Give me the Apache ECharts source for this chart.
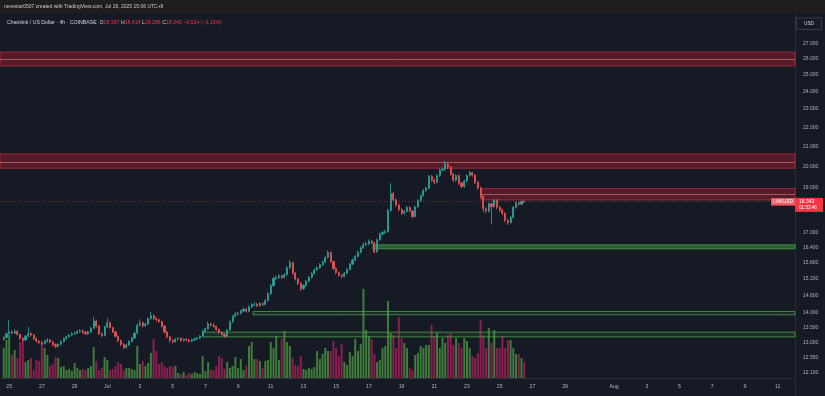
<!DOCTYPE html>
<html><head><meta charset="utf-8">
<script src="https://cdn.jsdelivr.net/npm/echarts@6/dist/echarts.min.js"></script>
<style>html,body{margin:0;padding:0;background:#161a25;}#c{width:825px;height:396px;}</style>
</head><body><div id="c"></div>
<script>
// ---------- DATA ----------
const firstBarTime = '2025-06-24T16:00:00Z';   // 4h bars
const barHours = 4;
const viewStart = '2025-06-24T10:30:00Z';
const viewEnd = '2025-08-12T01:30:00Z';
const opens = [
13.12,13.18,
13.30,13.36,13.32,13.38,13.28,13.15,
13.10,13.22,13.30,13.26,13.14,13.06,
13.02,12.98,13.06,13.10,13.04,12.95,
12.90,12.96,13.05,13.14,13.20,13.26,
13.30,13.32,13.37,13.40,13.34,13.30,
13.36,13.48,13.72,13.55,13.30,13.24,
13.52,13.66,13.50,13.36,13.22,13.08,
12.96,12.86,12.94,13.05,13.16,13.32,
13.58,13.66,13.56,13.62,13.80,13.90,
13.80,13.76,13.70,13.55,13.36,13.20,
13.08,13.04,13.12,13.15,13.08,13.12,
13.10,13.06,13.10,13.13,13.16,13.22,
13.38,13.46,13.62,13.58,13.54,13.44,
13.34,13.28,13.22,13.42,13.70,13.88,
13.96,13.98,14.06,14.12,14.05,14.20,
14.28,14.30,14.24,14.32,14.28,14.42,
14.66,14.96,15.22,15.26,15.32,15.26,
15.36,15.62,15.82,15.42,15.20,15.04,
14.84,14.96,15.12,15.26,15.40,15.54,
15.62,15.74,15.84,16.02,16.22,15.86,
15.60,15.44,15.34,15.30,15.42,15.56,
15.76,15.92,16.06,16.22,16.40,16.52,
16.56,16.66,16.60,16.24,16.72,16.96,
17.02,17.06,17.96,18.72,18.44,18.20,
18.00,17.84,17.92,18.10,17.94,17.70,
18.12,18.40,18.62,18.86,18.96,19.52,
19.34,19.24,19.56,19.82,19.86,20.12,
19.96,19.62,19.34,19.56,19.20,19.04,
19.30,19.56,19.70,19.58,19.24,18.98,
18.58,18.04,17.94,18.26,18.14,18.42,
18.10,17.98,17.84,17.54,17.44,17.66,
18.10,18.30,18.24,18.367];
const highs = [
13.22,13.34,
13.74,13.42,13.44,13.41,13.31,13.20,
13.26,13.52,13.36,13.29,13.18,13.10,
13.07,13.10,13.16,13.13,13.07,12.99,
13.00,13.09,13.18,13.24,13.30,13.35,
13.37,13.42,13.45,13.43,13.38,13.40,
13.52,13.86,13.76,13.58,13.34,13.56,
13.82,13.70,13.53,13.40,13.25,13.11,
13.00,12.98,13.09,13.20,13.36,13.64,
13.78,13.70,13.67,13.85,14.02,13.94,
13.85,13.80,13.73,13.58,13.39,13.24,
13.12,13.16,13.19,13.18,13.16,13.15,
13.13,13.14,13.17,13.20,13.26,13.42,
13.50,13.70,13.66,13.64,13.57,13.47,
13.37,13.31,13.46,13.74,13.92,14.02,
14.04,14.11,14.18,14.16,14.25,14.34,
14.36,14.34,14.37,14.36,14.47,14.72,
15.02,15.28,15.34,15.38,15.36,15.42,
15.68,15.92,15.86,15.46,15.24,15.08,
15.00,15.16,15.31,15.45,15.60,15.68,
15.80,15.90,16.08,16.30,16.26,15.90,
15.64,15.48,15.38,15.46,15.60,15.80,
15.98,16.12,16.28,16.46,16.62,16.64,
16.74,16.72,16.64,16.78,17.02,17.10,
17.14,18.04,19.20,18.80,18.50,18.26,
18.06,17.98,18.16,18.14,17.98,18.18,
18.46,18.68,18.92,19.04,19.60,19.58,
19.40,19.62,19.90,19.94,20.25,20.18,
20.02,19.68,19.62,19.60,19.26,19.36,
19.62,19.78,19.74,19.62,19.30,19.04,
18.64,18.12,18.32,18.30,18.48,18.46,
18.16,18.04,17.88,17.60,17.72,18.16,
18.36,18.34,18.40,18.414];
const lows = [
13.08,13.15,
13.27,13.28,13.29,13.24,13.10,13.05,
13.08,13.19,13.21,13.10,13.02,12.97,
12.93,12.95,13.02,12.99,12.90,12.84,
12.86,12.93,13.02,13.11,13.17,13.22,
13.26,13.29,13.33,13.30,13.26,13.27,
13.33,13.45,13.50,13.26,13.18,13.21,
13.49,13.46,13.32,13.18,13.03,12.90,
12.80,12.82,12.91,13.02,13.13,13.29,
13.54,13.50,13.52,13.58,13.76,13.75,
13.71,13.65,13.50,13.31,13.15,13.02,
12.99,13.01,13.08,13.04,13.05,13.06,
13.02,13.03,13.07,13.10,13.13,13.19,
13.35,13.43,13.54,13.50,13.40,13.30,
13.24,13.17,13.19,13.39,13.66,13.84,
13.90,13.94,14.02,14.00,14.02,14.16,
14.22,14.19,14.20,14.23,14.25,14.39,
14.62,14.92,15.16,15.20,15.20,15.22,
15.32,15.58,15.36,15.14,14.98,14.76,
14.80,14.92,15.08,15.22,15.36,15.50,
15.58,15.70,15.80,15.98,15.80,15.52,
15.38,15.28,15.22,15.26,15.38,15.52,
15.72,15.88,16.02,16.18,16.36,16.46,
16.50,16.54,16.18,16.20,16.68,16.90,
16.96,17.02,17.92,18.36,18.12,17.92,
17.76,17.78,17.88,17.88,17.62,17.66,
18.08,18.36,18.58,18.80,18.92,19.26,
19.16,19.20,19.50,19.76,19.80,19.88,
19.56,19.26,19.28,19.12,18.96,18.98,
19.24,19.50,19.50,19.16,18.90,18.48,
17.90,17.84,17.88,17.36,18.08,18.02,
17.90,17.76,17.46,17.34,17.40,17.62,
18.04,18.18,18.20,18.286];
const closes = [
13.18,13.30,
13.36,13.32,13.38,13.28,13.15,13.10,
13.22,13.30,13.26,13.14,13.06,13.02,
12.98,13.06,13.10,13.04,12.95,12.90,
12.96,13.05,13.14,13.20,13.26,13.30,
13.32,13.37,13.40,13.34,13.30,13.36,
13.48,13.72,13.55,13.30,13.24,13.52,
13.66,13.50,13.36,13.22,13.08,12.96,
12.86,12.94,13.05,13.16,13.32,13.58,
13.66,13.56,13.62,13.80,13.90,13.80,
13.76,13.70,13.55,13.36,13.20,13.08,
13.04,13.12,13.15,13.08,13.12,13.10,
13.06,13.10,13.13,13.16,13.22,13.38,
13.46,13.62,13.58,13.54,13.44,13.34,
13.28,13.22,13.42,13.70,13.88,13.96,
13.98,14.06,14.12,14.05,14.20,14.28,
14.30,14.24,14.32,14.28,14.42,14.66,
14.96,15.22,15.26,15.32,15.26,15.36,
15.62,15.82,15.42,15.20,15.04,14.84,
14.96,15.12,15.26,15.40,15.54,15.62,
15.74,15.84,16.02,16.22,15.86,15.60,
15.44,15.34,15.30,15.42,15.56,15.76,
15.92,16.06,16.22,16.40,16.52,16.56,
16.66,16.60,16.24,16.72,16.96,17.02,
17.06,17.96,18.72,18.44,18.20,18.00,
17.84,17.92,18.10,17.94,17.70,18.12,
18.40,18.62,18.86,18.96,19.52,19.34,
19.24,19.56,19.82,19.86,20.12,19.96,
19.62,19.34,19.56,19.20,19.04,19.30,
19.56,19.70,19.58,19.24,18.98,18.58,
18.04,17.94,18.26,18.14,18.42,18.10,
17.98,17.84,17.54,17.44,17.66,18.10,
18.30,18.24,18.367,18.343];
const volumes = [
30,38,
43,23,28,20,36,38,
16,18,20,8,18,17,
35,30,23,12,14,21,
20,11,12,8,9,7,
15,10,8,9,8,10,
12,31,17,8,10,21,
18,8,9,12,16,14,
8,10,10,9,8,32,
14,17,12,15,25,39,
27,14,16,12,10,12,
11,12,5,4,6,3,
5,4,6,5,4,22,
7,16,8,8,12,22,
20,9,16,10,12,21,
10,19,8,12,32,36,
19,19,17,10,17,18,
36,30,42,18,39,47,
36,32,20,13,12,22,
9,8,10,9,11,27,
19,24,30,27,27,37,
30,22,34,16,13,26,
22,39,27,34,89,48,
42,39,24,16,18,30,
32,77,45,43,30,61,
40,35,30,10,8,23,
25,32,30,33,33,53,
42,45,30,40,35,43,
45,33,40,35,30,40,
37,30,22,20,25,58,
43,30,50,35,48,30,
30,42,30,38,38,30,
24,24,20,16];
const priceTicks = [27,26,25,24,23,22,21,20,19,17,16.4,15.8,15.2,14.6,14,13.5,13,12.55,12.1];
const priceMin = 11.94, priceMax = 29.0;
const dateTicks = ['2025-06-25','2025-06-27','2025-06-29','2025-07-01','2025-07-03','2025-07-05','2025-07-07','2025-07-09','2025-07-11','2025-07-13','2025-07-15','2025-07-17','2025-07-19','2025-07-21','2025-07-23','2025-07-25','2025-07-27','2025-07-29','2025-08-01','2025-08-03','2025-08-05','2025-08-07','2025-08-09','2025-08-11'];
const dateTickLabels = ['25','27','29','Jul','3','5','7','9','11','13','15','17','19','21','23','25','27','29','Aug','3','5','7','9','11'];
// supply (red) and demand (green) zones: start time, low, high, mid line
const redZoneStart = [viewStart, viewStart, '2025-07-23T21:00:00Z'];
const redZoneLow = [25.55, 19.91, 18.43];
const redZoneHigh = [26.43, 20.62, 18.95];
const redZoneMid = [26.00, 20.18, 18.70];
const greenZoneStart = ['2025-07-17T06:00:00Z', '2025-07-09T22:00:00Z', '2025-07-06T20:00:00Z'];
const greenZoneLow = [16.36, 13.93, 13.20];
const greenZoneHigh = [16.52, 14.04, 13.35];
const symbolTitle = 'Chainlink / US Dollar · 4h · COINBASE';
const headerText = 'nevestar0507 created with TradingView.com, Jul 26, 2025 15:06 UTC+8';
const countdown = '01:53:46';
const tickerName = 'LINKUSD';

// ---------- BUILD ----------
const ORIGIN = Date.parse('2025-07-01T00:00:00Z');
const H = t => (Date.parse(t.length === 10 ? t + 'T00:00:00Z' : t) - ORIGIN) / 3600000;
const L = Math.log;
const x0 = H(firstBarTime);
const xMin = H(viewStart), xMax = H(viewEnd);
const UP = '#26a69a', DOWN = '#ef5350';
const VUP = '#3f7d3a', VDOWN = '#8c1f4f';
const candleData = closes.map((c, i) => [x0 + i * barHours, L(opens[i]), L(c), L(lows[i]), L(highs[i])]);
const volData = volumes.map((v, i) => ({
  value: [x0 + i * barHours, v],
  itemStyle: { color: closes[i] >= opens[i] ? VUP : VDOWN }
}));
const tickHours = dateTicks.map(H);
const tickLabelMap = {};
tickHours.forEach((h, i) => tickLabelMap[Math.round(h)] = dateTickLabels[i]);

const markAreas = [];
redZoneStart.forEach((s, i) => markAreas.push([
  { xAxis: Math.max(H(s), xMin), yAxis: L(redZoneHigh[i]), itemStyle: { color: 'rgba(150,28,45,0.5)', borderColor: 'rgba(185,45,60,0.75)', borderWidth: 1 } },
  { xAxis: xMax, yAxis: L(redZoneLow[i]) }
]));
greenZoneStart.forEach((s, i) => markAreas.push([
  { xAxis: H(s), yAxis: L(greenZoneHigh[i]), itemStyle: { color: i === 0 ? 'rgba(55,140,55,0.6)' : 'rgba(55,140,55,0.14)', borderColor: 'rgba(76,160,70,0.8)', borderWidth: 1 } },
  { xAxis: xMax, yAxis: L(greenZoneLow[i]) }
]));
const midLines = redZoneStart.map((s, i) => [
  { coord: [Math.max(H(s), xMin), L(redZoneMid[i])] },
  { coord: [xMax, L(redZoneMid[i])] }
]);
const last = closes.length - 1;
const lastPrice = closes[last];
const change = lastPrice - closes[last - 1];

const FONT = 'Liberation Sans, Arial, sans-serif';
const chart = echarts.init(document.getElementById('c'), null, { renderer: 'canvas' });
chart.setOption({
  backgroundColor: '#161a25',
  animation: false,
  grid: [{ left: 0, right: 30, top: 14, bottom: 18 }, { left: 0, right: 30, top: 278, bottom: 18 }],
  xAxis: [{
    type: 'value', gridIndex: 0, min: xMin, max: xMax,
    axisLine: { show: true, onZero: false, lineStyle: { color: '#2a2e39' } },
    axisTick: { show: false }, splitLine: { show: false },
    axisLabel: { customValues: tickHours, formatter: v => tickLabelMap[Math.round(v)] || '', color: '#b2b5be', fontSize: 5.2, fontFamily: FONT, margin: 6 }
  }, {
    type: 'value', gridIndex: 1, min: xMin, max: xMax, show: false
  }],
  yAxis: [{
    type: 'value', gridIndex: 0, position: 'right', min: L(priceMin), max: L(priceMax),
    axisLine: { show: true, onZero: false, lineStyle: { color: '#2a2e39' } },
    axisTick: { show: false }, splitLine: { show: false },
    axisLabel: { customValues: priceTicks.map(L), formatter: v => Math.exp(v).toFixed(3), color: '#b2b5be', fontSize: 5, fontFamily: FONT, margin: 8 }
  }, {
    type: 'value', gridIndex: 1, min: 0, max: 100, show: false
  }],
  series: [{
    type: 'bar', xAxisIndex: 1, yAxisIndex: 1, data: volData, barWidth: 2, z: 0
  }, {
    type: 'candlestick', xAxisIndex: 0, yAxisIndex: 0, data: candleData,
    encode: { x: 0, y: [1, 2, 3, 4] },
    barWidth: 1.6, z: 3,
    itemStyle: { color: UP, color0: DOWN, borderColor: UP, borderColor0: DOWN, borderWidth: 0.8 },
    markArea: { silent: true, z: 1, data: markAreas },
    markLine: {
      silent: true, symbol: 'none', animation: false,
      label: { show: false },
      data: [
        ...midLines.map(d => [Object.assign({ lineStyle: { color: 'rgba(235,135,145,0.7)', width: 0.8, type: 'solid' } }, d[0]), d[1]]),
        { yAxis: L(lastPrice), lineStyle: { color: 'rgba(220,110,110,0.55)', width: 0.8, type: [1, 2] } }
      ]
    }
  }]
});

const py = chart.convertToPixel({ yAxisIndex: 0 }, L(lastPrice));
const axisX = chart.convertToPixel({ xAxisIndex: 0 }, xMax);
const sign = change < 0 ? '−' : '+';
const pct = Math.abs(change / closes[last - 1] * 100).toFixed(2);
chart.setOption({
  graphic: [
    { type: 'rect', shape: { x: 0, y: 0, width: 825, height: 13 }, style: { fill: '#1e1e1f' }, z: 100 },
    { type: 'text', x: 4, y: 7, style: { text: headerText, fill: '#c8c8c8', fontSize: 5, fontFamily: FONT, verticalAlign: 'middle' }, z: 101 },
    { type: 'text', x: 7, y: 22.7, z: 101, style: {
      text: '{t|' + symbolTitle + '}  {k|O}{v|' + opens[last].toFixed(3) + '} {k|H}{v|' + highs[last].toFixed(3) + '} {k|L}{v|' + lows[last].toFixed(3) + '} {k|C}{v|' + lastPrice.toFixed(3) + '} {v|' + sign + Math.abs(change).toFixed(3) + ' (' + sign + pct + '%)}',
      verticalAlign: 'middle', fontFamily: FONT, fontSize: 5.2,
      rich: { t: { fill: '#d1d4dc', fontSize: 5.2, fontFamily: FONT }, k: { fill: '#d1d4dc', fontSize: 5.2, fontFamily: FONT }, v: { fill: '#f23645', fontSize: 5.2, fontFamily: FONT } }
    } },
    { type: 'rect', shape: { x: axisX + 1.5, y: 18, width: 25, height: 11.5 }, style: { fill: '#161a25', stroke: '#434651', lineWidth: 0.8 }, z: 101 },
    { type: 'text', x: axisX + 14, y: 23.8, style: { text: 'USD', fill: '#d1d4dc', fontSize: 4.8, fontFamily: FONT, align: 'center', verticalAlign: 'middle' }, z: 102 },
    { type: 'rect', shape: { x: axisX - 24, y: py - 3.8, width: 24, height: 7.5 }, style: { fill: '#f05b63' }, z: 101 },
    { type: 'text', x: axisX - 12, y: py, style: { text: tickerName, fill: '#ffffff', fontSize: 4.6, fontFamily: FONT, align: 'center', verticalAlign: 'middle' }, z: 102 },
    { type: 'rect', shape: { x: axisX, y: py - 4, width: 28, height: 14 }, style: { fill: '#f23645' }, z: 101 },
    { type: 'text', x: axisX + 4, y: py, style: { text: lastPrice.toFixed(3), fill: '#ffffff', fontSize: 5, fontFamily: FONT, verticalAlign: 'middle' }, z: 102 },
    { type: 'text', x: axisX + 4, y: py + 6.3, style: { text: countdown, fill: '#ffffff', fontSize: 4.6, fontFamily: FONT, verticalAlign: 'middle' }, z: 102 },
    { type: 'line', shape: { x1: axisX + 0.5, y1: 378, x2: axisX + 0.5, y2: 396 }, style: { stroke: '#2a2e39', lineWidth: 1 }, z: 100 }
  ]
});
</script></body></html>
